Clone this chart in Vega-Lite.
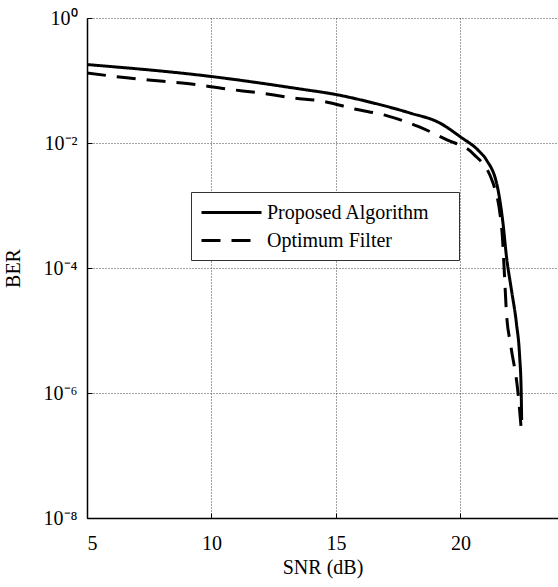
{
  "$schema": "https://vega.github.io/schema/vega-lite/v6.json",
  "width": 471,
  "height": 500,
  "autosize": {"type": "none"},
  "padding": {"left": 87, "top": 18, "right": 0, "bottom": 69},
  "background": "white",
  "config": {"view": {"stroke": null}, "font": "Liberation Serif"},
  "data": {"values": [
    {"series": "Proposed Algorithm", "snr": 5.0, "ber": 0.180},
    {"series": "Proposed Algorithm", "snr": 9.93, "ber": 0.1167},
    {"series": "Proposed Algorithm", "snr": 13.55, "ber": 0.0733},
    {"series": "Proposed Algorithm", "snr": 15.02, "ber": 0.0594},
    {"series": "Proposed Algorithm", "snr": 16.49, "ber": 0.0438},
    {"series": "Proposed Algorithm", "snr": 17.96, "ber": 0.0303},
    {"series": "Proposed Algorithm", "snr": 19.17, "ber": 0.0209},
    {"series": "Proposed Algorithm", "snr": 19.97, "ber": 0.0128},
    {"series": "Proposed Algorithm", "snr": 20.77, "ber": 0.00726},
    {"series": "Proposed Algorithm", "snr": 21.04, "ber": 0.00541},
    {"series": "Proposed Algorithm", "snr": 21.51, "ber": 0.00179},
    {"series": "Proposed Algorithm", "snr": 21.71, "ber": 0.000522},
    {"series": "Proposed Algorithm", "snr": 21.85, "ber": 0.000152},
    {"series": "Proposed Algorithm", "snr": 22.05, "ber": 0.0000446},
    {"series": "Proposed Algorithm", "snr": 22.25, "ber": 0.0000130},
    {"series": "Proposed Algorithm", "snr": 22.38, "ber": 0.0000038},
    {"series": "Proposed Algorithm", "snr": 22.44, "ber": 0.00000111},
    {"series": "Proposed Algorithm", "snr": 22.46, "ber": 0.00000037},
    {"series": "Optimum Filter", "snr": 5.0, "ber": 0.1324},
    {"series": "Optimum Filter", "snr": 6.59, "ber": 0.1102},
    {"series": "Optimum Filter", "snr": 8.06, "ber": 0.0971},
    {"series": "Optimum Filter", "snr": 9.40, "ber": 0.0859},
    {"series": "Optimum Filter", "snr": 10.60, "ber": 0.0733},
    {"series": "Optimum Filter", "snr": 11.94, "ber": 0.0632},
    {"series": "Optimum Filter", "snr": 13.28, "ber": 0.0526},
    {"series": "Optimum Filter", "snr": 14.48, "ber": 0.0465},
    {"series": "Optimum Filter", "snr": 15.75, "ber": 0.0351},
    {"series": "Optimum Filter", "snr": 17.03, "ber": 0.0274},
    {"series": "Optimum Filter", "snr": 18.30, "ber": 0.01845},
    {"series": "Optimum Filter", "snr": 19.44, "ber": 0.0113},
    {"series": "Optimum Filter", "snr": 20.51, "ber": 0.00675},
    {"series": "Optimum Filter", "snr": 21.31, "ber": 0.00229},
    {"series": "Optimum Filter", "snr": 21.67, "ber": 0.000383},
    {"series": "Optimum Filter", "snr": 21.78, "ber": 0.0000644},
    {"series": "Optimum Filter", "snr": 21.85, "ber": 0.0000189},
    {"series": "Optimum Filter", "snr": 22.02, "ber": 0.00000586},
    {"series": "Optimum Filter", "snr": 22.31, "ber": 0.00000104},
    {"series": "Optimum Filter", "snr": 22.46, "ber": 0.000000219}
  ]},
  "mark": {"type": "line", "color": "black", "strokeWidth": 3, "clip": true, "interpolate": "monotone"},
  "encoding": {
    "x": {
      "field": "snr", "type": "quantitative",
      "scale": {"domain": [5, 23.92], "nice": false, "zero": false},
      "axis": {
        "values": [5, 10, 15, 20],
        "title": "SNR (dB)",
        "titleFont": "Liberation Serif", "titleFontSize": 20, "titleFontWeight": "normal", "titleColor": "black",
        "titlePadding": 4,
        "labelFont": "Liberation Serif", "labelFontSize": 20, "labelColor": "black",
        "labelPadding": 20,
        "tickSize": -5, "tickColor": "black", "tickWidth": 1,
        "domainColor": "black", "domainWidth": 1.5,
        "grid": true, "gridDash": [1, 2], "gridColor": "#444", "gridWidth": 1
      }
    },
    "y": {
      "field": "ber", "type": "quantitative",
      "scale": {"type": "log", "domain": [1e-8, 1], "nice": false},
      "axis": {
        "values": [1e-8, 1e-6, 1e-4, 1e-2, 1],
        "labelExpr": "round(log(datum.value)/LN10) == 0 ? '10⁰' : round(log(datum.value)/LN10) == -2 ? '10⁻²' : round(log(datum.value)/LN10) == -4 ? '10⁻⁴' : round(log(datum.value)/LN10) == -6 ? '10⁻⁶' : '10⁻⁸'",
        "title": "BER",
        "titleFont": "Liberation Serif", "titleFontSize": 20, "titleFontWeight": "normal", "titleColor": "black",
        "titlePadding": 20,
        "labelFont": "Liberation Serif", "labelFontSize": 20, "labelColor": "black",
        "labelPadding": 15,
        "tickSize": -5, "tickColor": "black", "tickWidth": 1,
        "domainColor": "black", "domainWidth": 1.5,
        "grid": true, "gridDash": [1, 2], "gridColor": "#444", "gridWidth": 1
      }
    },
    "strokeDash": {
      "field": "series", "type": "nominal",
      "scale": {"domain": ["Proposed Algorithm", "Optimum Filter"], "range": [[1, 0], [19, 11]]},
      "legend": {
        "title": null,
        "orient": "none",
        "legendX": 104,
        "legendY": 174,
        "direction": "vertical",
        "padding": 9,
        "rowPadding": 6,
        "strokeColor": "#333",
        "fillColor": "white",
        "symbolType": "M-1,0H5",
        "symbolSize": 400,
        "symbolStrokeColor": "black",
        "symbolStrokeWidth": 3,
        "symbolFillColor": "transparent",
        "labelFont": "Liberation Serif",
        "labelFontSize": 20,
        "labelColor": "black",
        "labelOffset": 44,
        "labelLimit": 400,
        "labelExpr": "datum.label + '\u00a0\u00a0\u00a0\u00a0\u200b'"
      }
    }
  }
}
